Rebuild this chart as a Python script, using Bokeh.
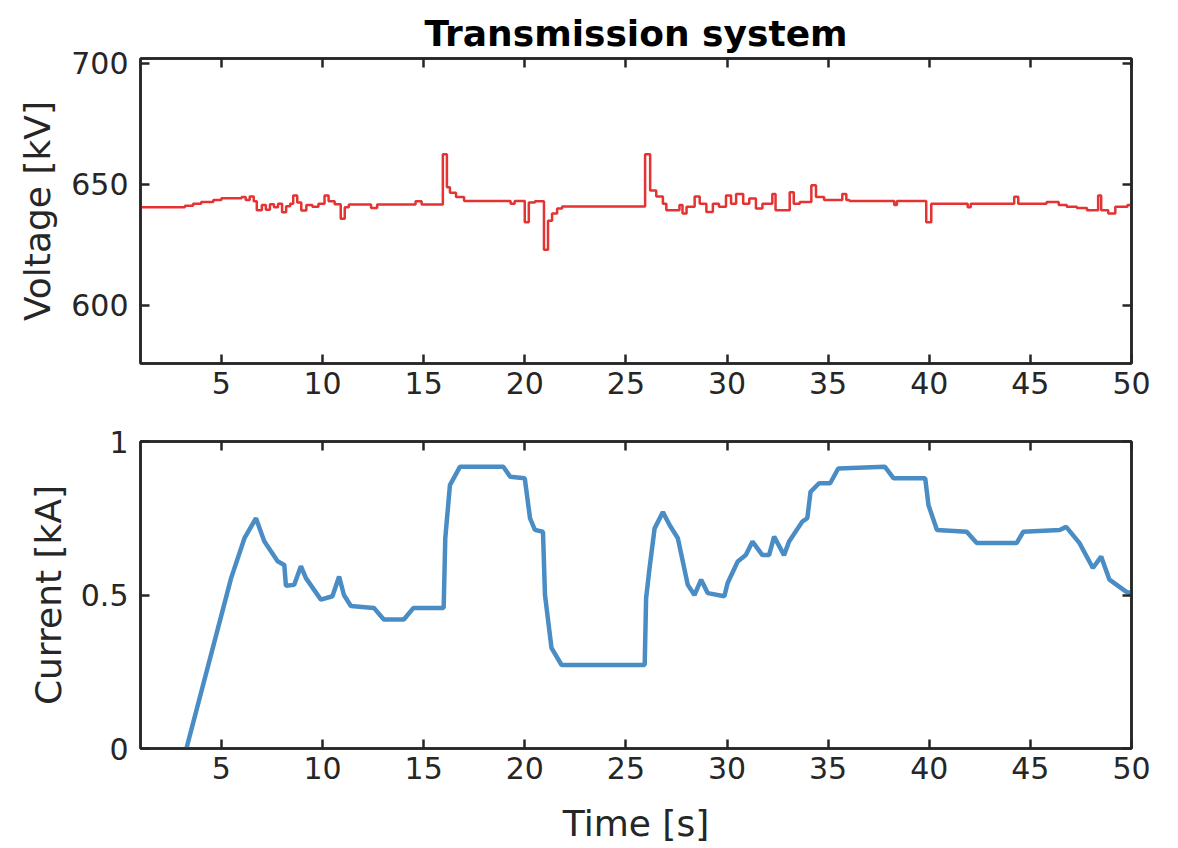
from bokeh.plotting import figure
from bokeh.layouts import column
from bokeh.models import LinearAxis, FixedTicker, Range1d
from bokeh.embed import file_html
from bokeh.resources import INLINE

# ---- data ----
volt_t = [1.0, 3.2, 3.6, 4.0, 4.6, 5.0, 6.0, 6.2, 6.4, 6.6,
          6.75, 7.0, 7.2, 7.4, 7.6, 7.8, 8.0, 8.2, 8.4, 8.55,
          8.75, 8.95, 9.2, 9.5, 9.8, 10.1, 10.3, 10.6, 10.9, 11.1,
          11.3, 12.4, 12.7, 14.6, 14.9, 15.95, 16.15, 16.3, 16.6, 17.0,
          19.3, 19.5, 20.0, 20.2, 20.5, 20.95, 21.15, 21.35, 21.6, 21.85,
          25.95, 26.2, 26.5, 26.83, 27.0, 27.65, 27.8, 28.0, 28.4, 28.65,
          28.98, 29.3, 29.6, 29.95, 30.2, 30.45, 30.8, 31.1, 31.43, 31.75,
          32.24, 32.4, 33.1, 33.3, 33.6, 34.17, 34.4, 34.8, 35.7, 35.9,
          36.05, 38.27, 38.4, 39.85, 40.1, 41.9, 42.05, 44.2, 44.4, 45.8,
          46.4, 46.8, 47.3, 47.8, 48.35, 48.5, 48.85, 49.2, 49.8, 50.0]
volt_v = [640.6, 641.2, 642.0, 642.7, 643.5, 644.3, 644.8, 643.5, 645.0, 643.0,
          639.3, 641.5, 639.5, 641.8, 640.5, 642.0, 638.5, 641.0, 642.0, 645.4,
          642.5, 639.2, 641.5, 640.8, 642.0, 645.4, 643.0, 641.8, 635.8, 640.5,
          641.7, 640.2, 641.7, 643.0, 641.7, 662.4, 648.8, 646.5, 644.8, 643.1,
          642.0, 643.1, 634.4, 642.5, 643.0, 623.0, 635.0, 638.0, 640.0, 640.9,
          662.4, 647.5, 645.0, 642.0, 639.3, 641.5, 638.0, 640.8, 645.0, 642.0,
          638.6, 642.0, 640.8, 645.4, 642.0, 646.0, 642.0, 644.2, 640.0, 642.0,
          646.0, 639.3, 646.7, 642.0, 642.7, 649.6, 644.8, 643.5, 646.0, 643.5,
          643.1, 641.5, 643.1, 634.4, 642.0, 640.6, 642.0, 644.9, 642.0, 642.7,
          641.5, 640.8, 640.2, 639.3, 645.4, 639.3, 638.0, 640.8, 641.5, 641.5]

curr_t = [3.27, 5.48, 6.14, 6.71, 7.12, 7.78, 8.11, 8.19, 8.6, 8.93, 9.18, 9.92, 10.49, 10.82,
          11.06, 11.4, 12.54, 13.03, 14.02, 14.5, 15.99, 16.07, 16.3, 16.8, 18.94, 19.28, 20.0,
          20.26, 20.5, 20.9, 21.0, 21.32, 21.82, 25.93, 26.0, 26.17, 26.42, 26.83, 27.16, 27.57,
          28.06, 28.39, 28.72, 29.05, 29.87, 30.03, 30.53, 30.93, 31.26, 31.75, 32.08, 32.33,
          32.82, 33.07, 33.72, 33.97, 34.13, 34.55, 35.1, 35.5, 37.8, 38.24, 39.8, 39.96, 40.38,
          41.85, 42.35, 44.32, 44.65, 46.45, 46.77, 47.43, 48.09, 48.5, 48.91, 49.73, 50.0]
curr_v = [0.0, 0.555, 0.685, 0.75, 0.675, 0.61, 0.598, 0.53, 0.533, 0.594, 0.555, 0.485, 0.496,
          0.56, 0.50, 0.464, 0.458, 0.42, 0.42, 0.458, 0.458, 0.685, 0.858, 0.918, 0.918, 0.885,
          0.88, 0.75, 0.712, 0.706, 0.50, 0.328, 0.272, 0.272, 0.49, 0.588, 0.717, 0.77, 0.728,
          0.685, 0.533, 0.50, 0.55, 0.506, 0.496, 0.539, 0.609, 0.63, 0.674, 0.63, 0.63, 0.69,
          0.63, 0.674, 0.739, 0.75, 0.836, 0.864, 0.864, 0.912, 0.918, 0.88, 0.88, 0.793, 0.712,
          0.706, 0.669, 0.669, 0.706, 0.712, 0.722, 0.669, 0.588, 0.625, 0.55, 0.511, 0.505]

x_ticks = [5, 10, 15, 20, 25, 30, 35, 40, 45, 50]
volt_ticks = [600, 650, 700]
curr_ticks = [0, 0.5, 1]
title_text = "Transmission system"

AX = "#262626"
FONT = "DejaVu Sans"


def style_axis(ax, labels=True):
    ax.axis_line_color = AX
    ax.axis_line_width = 2.5
    ax.major_tick_line_color = AX
    ax.major_tick_line_width = 2.5
    ax.major_tick_in = 9
    ax.major_tick_out = 0
    ax.minor_tick_line_color = None
    ax.major_label_text_font = FONT
    ax.major_label_text_color = AX
    ax.axis_label_text_font = FONT
    ax.axis_label_text_color = AX
    ax.axis_label_text_font_style = "normal"
    ax.axis_label_text_font_size = "36px"
    if labels:
        ax.major_label_text_font_size = "30px"
    else:
        ax.major_label_text_font_size = "0px"
        ax.major_label_standoff = 0


def make_fig(height, bt, bb, yr, yticks):
    p = figure(width=1162, height=height, output_backend="svg", toolbar_location=None,
               x_range=Range1d(1, 50), y_range=yr,
               min_border_left=140, min_border_right=31, min_border_top=bt, min_border_bottom=bb)
    p.xgrid.visible = False
    p.ygrid.visible = False
    p.outline_line_color = AX
    p.outline_line_width = 2.5
    p.background_fill_color = "white"
    p.border_fill_color = "white"
    xb = p.below[0]
    yl = p.left[0]
    xb.ticker = FixedTicker(ticks=x_ticks)
    yl.ticker = FixedTicker(ticks=yticks)
    style_axis(xb)
    style_axis(yl)
    xb.major_label_standoff = 8
    yl.major_label_standoff = 12
    top = LinearAxis(ticker=FixedTicker(ticks=x_ticks))
    right = LinearAxis(ticker=FixedTicker(ticks=yticks))
    style_axis(top, labels=False)
    style_axis(right, labels=False)
    p.add_layout(top, "above")
    p.add_layout(right, "right")
    return p, xb, yl


p1, xb1, yl1 = make_fig(406, 58, 43, Range1d(576, 702), volt_ticks)
p1.title.text = title_text
p1.title.text_font = FONT
p1.title.text_font_size = "36px"
p1.title.text_font_style = "bold"
p1.title.align = "center"
p1.title.text_color = "black"
p1.title.standoff = 10
yl1.axis_label = "Voltage [kV]"
yl1.axis_label_standoff = 10
p1.step(volt_t, volt_v, mode="after", line_color="#e53232", line_width=2.5)

p2, xb2, yl2 = make_fig(440, 35, 95, Range1d(0, 1), curr_ticks)
yl2.axis_label = "Current [kA]"
yl2.axis_label_standoff = 9
yl2.major_label_overrides = {0: "0", 0.5: "0.5", 1: "1"}
xb2.axis_label = "Time [s]"
xb2.axis_label_standoff = 21
p2.line(curr_t, curr_v, line_color="#4a8cc4", line_width=4.5)

layout = column(p1, p2, spacing=0)
open("out.html", "w").write(file_html(layout, INLINE))
